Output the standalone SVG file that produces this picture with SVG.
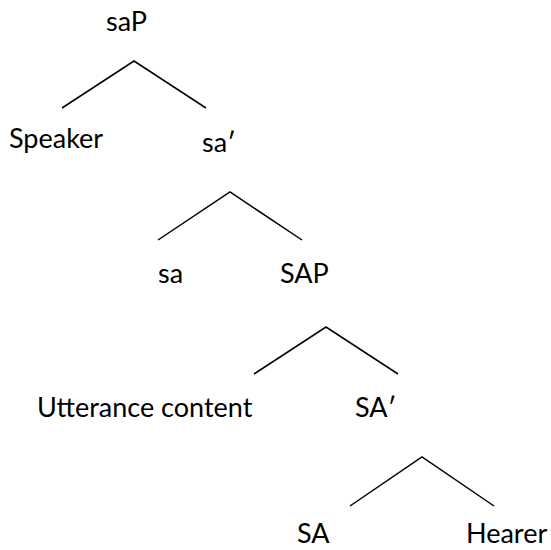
<svg xmlns="http://www.w3.org/2000/svg" width="551" height="550" viewBox="0 0 551 550">
<style>
text{font-family:Lato,"Open Sans","Liberation Sans",sans-serif;font-size:27px;fill:#000}
.e{fill:none;stroke:#000;stroke-width:1.5}
</style>
<rect width="551" height="550" fill="#fff"/>
<g id="connectors">
<polyline class="e" points="62,108 134,61 206,108"/>
<polyline class="e" points="158,240 230,192 302,240"/>
<polyline class="e" points="254,374 326,327 398,374"/>
<polyline class="e" points="350,506 422,457 494,506"/>
</g>
<g id="saP"><text x="106" y="31">saP</text></g>
<g id="Speaker"><text x="9" y="148">Speaker</text></g>
<g id="sa1"><text x="202" y="152">sa′</text></g>
<g id="sa"><text x="158" y="283">sa</text></g>
<g id="SAP"><text x="280" y="283">SAP</text></g>
<g id="Utterance"><text x="37" y="417">Utterance content</text></g>
<g id="SA1"><text x="355" y="417">SA′</text></g>
<g id="SA"><text x="297" y="543">SA</text></g>
<g id="Hearer"><text x="466" y="543">Hearer</text></g>
</svg>
